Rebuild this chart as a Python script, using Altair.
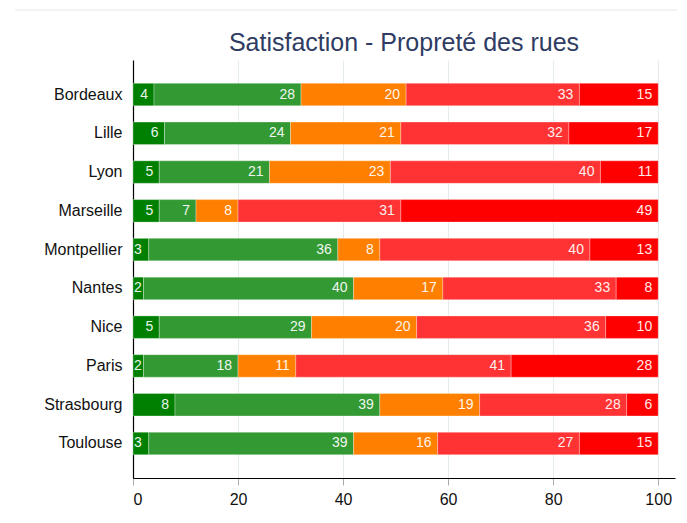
import altair as alt
import pandas as pd

cities = ["Bordeaux", "Lille", "Lyon", "Marseille", "Montpellier",
          "Nantes", "Nice", "Paris", "Strasbourg", "Toulouse"]
segments = ["Très satisfait", "Satisfait", "Neutre", "Insatisfait", "Très insatisfait"]
colors = ["#008000", "#339933", "#FF8000", "#FF3333", "#FF0000"]

tres_satisfait = [4, 6, 5, 5, 3, 2, 5, 2, 8, 3]
satisfait = [28, 24, 21, 7, 36, 40, 29, 18, 39, 39]
neutre = [20, 21, 23, 8, 8, 17, 20, 11, 19, 16]
insatisfait = [33, 32, 40, 31, 40, 33, 36, 41, 28, 27]
tres_insatisfait = [15, 17, 11, 49, 13, 8, 10, 28, 6, 15]

x_ticks = [0, 20, 40, 60, 80, 100]

series = [tres_satisfait, satisfait, neutre, insatisfait, tres_insatisfait]
rows = []
for si, (seg, vals) in enumerate(zip(segments, series)):
    for c, v in zip(cities, vals):
        rows.append({"city": c, "segment": seg, "idx": si, "value": v})
df = pd.DataFrame(rows)

FONT = "Liberation Sans"

base = alt.Chart(df).transform_stack(
    stack="value", groupby=["city"], as_=["x0", "x1"],
    sort=[alt.SortField("idx", order="ascending")]
)

yenc = alt.Y("city:N", sort=cities, title=None,
             scale=alt.Scale(paddingInner=0.42, paddingOuter=0.6),
             axis=alt.Axis(domainColor="#000000", domainWidth=1.2, ticks=False,
                           labelPadding=11, labelFontSize=16, labelFont=FONT,
                           labelColor="#111111", grid=False))

bars = base.mark_bar(stroke="white", strokeWidth=0.6, strokeOpacity=0.5).encode(
    x=alt.X("x0:Q", title=None,
            scale=alt.Scale(domain=[0, 103.2], nice=False, zero=True),
            axis=alt.Axis(values=x_ticks, domainColor="#000000", domainWidth=1.2,
                          tickColor="#aaaaaa", tickSize=7, labelFontSize=16,
                          labelFont=FONT, labelColor="#111111", labelPadding=6,
                          gridColor="#e4ecef", gridWidth=1)),
    x2="x1:Q",
    y=yenc,
    color=alt.Color("segment:N", scale=alt.Scale(domain=segments, range=colors), legend=None),
)

labels_in = base.transform_filter("datum.value >= 4").mark_text(
    align="right", baseline="middle", dx=-6, fontSize=14,
    font=FONT, color="#ffffff", opacity=0.92).encode(
    x="x1:Q",
    y=alt.Y("city:N", sort=cities),
    text="value:Q",
)

labels_small = base.transform_filter("datum.value < 4").mark_text(
    align="left", baseline="middle", dx=1, fontSize=14,
    font=FONT, color="#ffffff", opacity=0.92).encode(
    x="x0:Q",
    y=alt.Y("city:N", sort=cities),
    text="value:Q",
)

topline = alt.Chart(pd.DataFrame({"a": [0]})).mark_rule(
    color="#edf2f2", strokeWidth=1.5).encode(
    x=alt.value(-118), x2=alt.value(548), y=alt.value(-50)
)

chart = alt.layer(bars, labels_in, labels_small, topline).properties(
    width=542, height=418,
    autosize=alt.AutoSizeParams(type="none"),
    padding={"left": 125, "top": 52, "right": 2, "bottom": 35},
    title=alt.TitleParams("Satisfaction - Propreté des rues", fontSize=25,
                          font=FONT, fontWeight="normal", color="#2f3c63",
                          anchor="middle", frame="group", offset=-46.75),
).configure_view(stroke=None)

chart.save("out.html", embed_options={"renderer": "svg", "actions": False})
